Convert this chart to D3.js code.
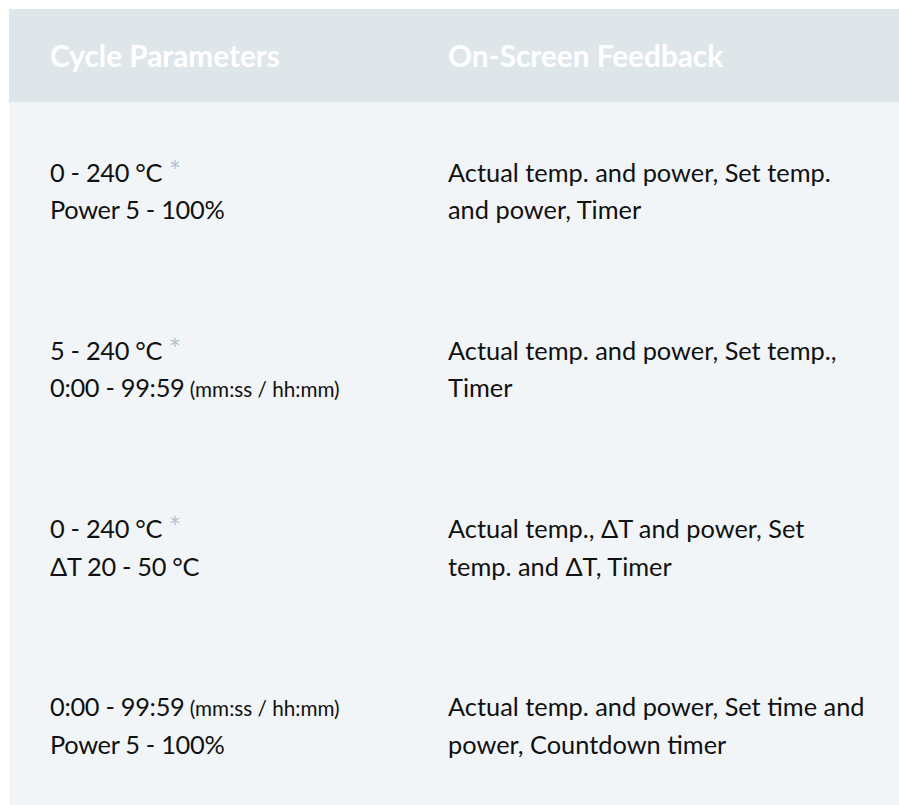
<!DOCTYPE html>
<html>
<head>
<meta charset="utf-8">
<script src="https://cdn.jsdelivr.net/npm/d3@7"></script>
<style>
  html, body { margin: 0; padding: 0; background: #ffffff; }
  svg { display: block; }
</style>
</head>
<body>
<div id="chart"></div>
<script>
// ---- data ----
const headers = ["Cycle Parameters", "On-Screen Feedback"];
const paramLine1 = ["0 - 240 °C", "5 - 240 °C", "0 - 240 °C", "0:00 - 99:59"];
const paramLine1Star = [true, true, true, false];
const paramLine1Note = ["", "", "", "(mm:ss / hh:mm)"];
const paramLine2 = ["Power 5 - 100%", "0:00 - 99:59", "ΔT 20 - 50 °C", "Power 5 - 100%"];
const paramLine2Note = ["", "(mm:ss / hh:mm)", "", ""];
const feedbackLine1 = [
  "Actual temp. and power, Set temp.",
  "Actual temp. and power, Set temp.,",
  "Actual temp., ΔT and power, Set",
  "Actual temp. and power, Set time and"
];
const feedbackLine2 = [
  "and power, Timer",
  "Timer",
  "temp. and ΔT, Timer",
  "power, Countdown timer"
];

// ---- layout ----
const W = 899, H = 805;
const panelLeft = 9, panelTop = 9, headerBottom = 102;
const rowPitch = 178.1;
const FONT = "Lato, 'Open Sans', sans-serif";

const svg = d3.select("#chart").append("svg")
  .attr("width", W).attr("height", H);

// fit font sizes to measured widths in the reference
function fitSize(str, weight, target) {
  const t = svg.append("text")
    .attr("font-family", FONT).attr("font-weight", weight)
    .attr("font-size", 100).text(str);
  const w = t.node().getComputedTextLength();
  t.remove();
  return 100 * target / w;
}
const bodySize = fitSize("Actual temp. and power, Set temp.", 400, 383);
const headSize = fitSize("Cycle Parameters", 700, 230);
const noteSize = fitSize("(mm:ss / hh:mm)", 400, 150);

const rows = d3.range(paramLine1.length);
const x = d3.scaleOrdinal().domain([0, 1]).range([50, 448]);
const y = d3.scaleLinear().domain([0, rows.length]).range([headerBottom, headerBottom + rowPitch * rows.length]);
const firstBaseline = 79.7, lineGap = 37.6;

// backgrounds
svg.append("rect")
  .attr("x", panelLeft).attr("y", headerBottom)
  .attr("width", W - panelLeft).attr("height", H - headerBottom)
  .attr("fill", "#f1f5f7");
svg.append("rect")
  .attr("x", panelLeft).attr("y", panelTop)
  .attr("width", W - panelLeft).attr("height", headerBottom - panelTop)
  .attr("fill", "#dfe6ea");

// headers
svg.selectAll("text.head").data(headers).join("text")
  .attr("class", "head")
  .attr("x", (d, i) => x(i)).attr("y", 67)
  .attr("font-family", FONT).attr("font-weight", 700)
  .attr("font-size", headSize).attr("fill", "#ffffff")
  .text(d => d);

// cycle parameters column
function addLine(g, main, note, star, baseline) {
  const t = g.append("text")
    .attr("x", x(0)).attr("y", baseline)
    .attr("font-family", FONT).attr("font-size", bodySize)
    .attr("fill", "#111111");
  t.append("tspan").attr("letter-spacing", -0.3).text(main);
  if (star) {
    t.append("tspan").text(" ");
    t.append("tspan").attr("fill", "#b4c6d3")
      .attr("font-size", bodySize * 1.15).text("*");
  }
  if (note) t.append("tspan").attr("font-size", noteSize).text(" " + note);
}

rows.forEach(i => {
  const g = svg.append("g");
  const b1 = y(i) + firstBaseline, b2 = b1 + lineGap;
  addLine(g, paramLine1[i], paramLine1Note[i], paramLine1Star[i], b1);
  addLine(g, paramLine2[i], paramLine2Note[i], false, b2);
  [feedbackLine1[i], feedbackLine2[i]].forEach((s, k) => {
    g.append("text")
      .attr("x", x(1)).attr("y", k === 0 ? b1 : b2)
      .attr("font-family", FONT).attr("font-size", bodySize)
      .attr("fill", "#111111")
      .text(s);
  });
});
</script>
</body>
</html>
